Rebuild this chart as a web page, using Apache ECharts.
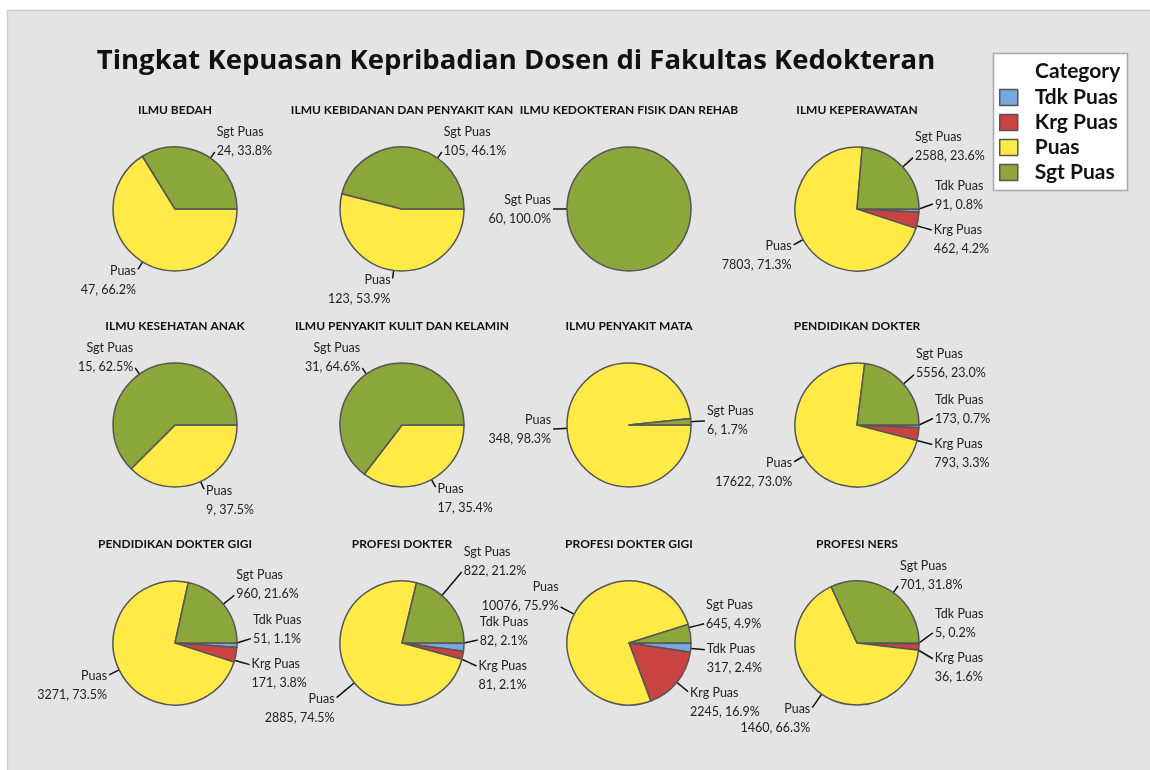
<!DOCTYPE html>
<html>
<head>
<meta charset="utf-8">
<script src="https://cdn.jsdelivr.net/npm/echarts@6/dist/echarts.min.js"></script>
<style>
  html, body { margin: 0; padding: 0; background: #fff; }
  #chart { width: 1150px; height: 770px; }
</style>
</head>
<body>
<div id="chart"></div>
<script>
// panel names, in row order
const panels = [
  "ILMU BEDAH", "ILMU KEBIDANAN DAN PENYAKIT KAN", "ILMU KEDOKTERAN FISIK DAN REHAB", "ILMU KEPERAWATAN",
  "ILMU KESEHATAN ANAK", "ILMU PENYAKIT KULIT DAN KELAMIN", "ILMU PENYAKIT MATA", "PENDIDIKAN DOKTER",
  "PENDIDIKAN DOKTER GIGI", "PROFESI DOKTER", "PROFESI DOKTER GIGI", "PROFESI NERS"
];
const categories = ["Tdk Puas", "Krg Puas", "Puas", "Sgt Puas"];
// counts per category, one per panel
const tdkPuas = [0, 0, 0, 91, 0, 0, 0, 173, 51, 82, 317, 5];
const krgPuas = [0, 0, 0, 462, 0, 0, 0, 793, 171, 81, 2245, 36];
const puas = [47, 123, 0, 7803, 9, 17, 348, 17622, 3271, 2885, 10076, 1460];
const sgtPuas = [24, 105, 60, 2588, 15, 31, 6, 5556, 960, 822, 645, 701];

const colors = {
  "Tdk Puas": "#7ba6dc",
  "Krg Puas": "#c94343",
  "Puas": "#ffea47",
  "Sgt Puas": "#8ba63a"
};
const FONT = "Lato, 'Open Sans', sans-serif";
const LABEL_FONT = "12.5px Lato, 'Open Sans', sans-serif";

const colX = [175, 402, 629, 857];
const rowY = [209, 425, 643];
const titleY = [110, 326, 544];
const R = 62;
const LH = 19; // label line height

const ctx = document.createElement("canvas").getContext("2d");
ctx.font = LABEL_FONT;

function labelLines(name, v, total) {
  return [name, v + ", " + (v / total * 100).toFixed(1) + "%"];
}

// minitab-like label placement: short leader, text block beside it,
// blocks pushed apart when they collide
let allLabels = [];
let labelPos = [];

function placeLabels(si, names, vals, cx, cy) {
  const total = vals.reduce((a, b) => a + b, 0);
  const TAU = 2 * Math.PI;
  let acc = 0;
  const out = [];
  vals.forEach((v, k) => {
    const a0 = acc / total * TAU;
    acc += v;
    const a1 = acc / total * TAU;
    const th = (a0 + a1) / 2;
    const c = Math.cos(th), s = Math.sin(th);
    const ax = cx + (R + 14) * c, ay = cy + (R + 14) * s;
    const right = c >= 0;
    let kind = "mid";
    let yc = ay;
    if (s < -0.3) { kind = "up"; yc = Math.max(ay - 11, cy - R - 6); }
    else if (s > 0.3) { kind = "down"; yc = ay + 5; }
    const lines = labelLines(names[k], v, total);
    const widths = lines.map(t => ctx.measureText(t).width);
    out.push({ si, cx, cy, a0, a1, ax, ay, right, kind, yc, widths });
  });
  // same pie, same side: keep blocks apart
  [true, false].forEach(side => {
    const list = out.filter(o => o.right === side).sort((a, b) => a.yc - b.yc);
    const gap = 2 * LH + 6;
    for (let it = 0; it < 30; it++) {
      let moved = false;
      for (let k = 1; k < list.length; k++) {
        const d = list[k].yc - list[k - 1].yc;
        if (d < gap - 0.01) {
          const sh = (gap - d) / 2;
          list[k - 1].yc -= sh;
          list[k].yc += sh;
          moved = true;
        }
      }
      if (!moved) break;
    }
  });
  // keep text off the pie horizontally
  out.forEach(o => {
    const top = o.yc - LH + 3, bot = o.yc + LH - 3;
    let dy = 0;
    if (bot < cy) dy = cy - bot;
    else if (top > cy) dy = top - cy;
    const w = dy >= R ? 0 : Math.sqrt(R * R - dy * dy);
    if (o.right) o.x = Math.max(o.ax + 2, cx + w + 8);
    else o.x = Math.min(o.ax - 2, cx - w - 8);
  });
  return out;
}

function lineRects(o) {
  return o.widths.map((w, k) => {
    const yc = o.yc + (k === 0 ? -LH / 2 : LH / 2);
    const x0 = o.right ? o.x : o.x - w;
    return { x0: x0, x1: x0 + w, y0: yc - 7, y1: yc + 7 };
  });
}

// labels of neighbouring pies must not run into each other
function resolveAcrossPanels() {
  for (let it = 0; it < 40; it++) {
    let moved = false;
    for (let a = 0; a < allLabels.length; a++) {
      for (let b = 0; b < allLabels.length; b++) {
        const A = allLabels[a], B = allLabels[b];
        if (A.si === B.si || A.yc > B.yc) continue;
        let push = 0;
        lineRects(A).forEach(ra => lineRects(B).forEach(rb => {
          if (ra.x0 < rb.x1 + 10 && rb.x0 < ra.x1 + 10 && ra.y0 < rb.y1 + 2 && rb.y0 < ra.y1 + 2) {
            push = Math.max(push, ra.y1 + 2 - rb.y0);
          }
        }));
        if (push > 0.01) {
          // upper-side labels go further up, the others go down
          if (A.kind === "up") A.yc -= push;
          else B.yc += push;
          moved = true;
        }
      }
    }
    if (!moved) break;
  }
}

function finishLines() {
  const TAU = 2 * Math.PI;
  allLabels.forEach(o => {
    const tx = o.right ? o.x - 2 : o.x + 2;
    let ty;
    if (o.kind === "up") ty = o.yc + 11;
    else if (o.kind === "down") ty = o.yc - 11;
    else ty = Math.min(Math.max(o.ay, o.yc - 9), o.yc + 9);
    // start on the slice's arc, nearest to the text
    let phi = Math.atan2(ty - o.cy, tx - o.cx);
    if (phi < 0) phi += TAU;
    if (!(phi >= o.a0 && phi <= o.a1) && (o.a1 - o.a0) < TAU - 1e-6) {
      const dist = (p, q) => { let d = Math.abs(p - q) % TAU; return Math.min(d, TAU - d); };
      phi = dist(phi, o.a0) < dist(phi, o.a1) ? o.a0 : o.a1;
    }
    const sx = o.cx + R * Math.cos(phi), sy = o.cy + R * Math.sin(phi);
    o.pts = [[sx, sy], [(sx + tx) / 2, (sy + ty) / 2], [tx, ty]];
  });
}

let series = [];
let graphics = [
  // gray panel
  {
    type: "rect", z: -10, silent: true,
    shape: { x: 7.5, y: 10.5, width: 1150, height: 770 },
    style: { fill: "#e4e4e4", stroke: "#cfcfcf", lineWidth: 1.5 }
  },
  {
    type: "text", silent: true,
    style: {
      text: "Tingkat Kepuasan Kepribadian Dosen di Fakultas Kedokteran",
      x: 516, y: 61, textAlign: "center", textVerticalAlign: "middle",
      font: "bold 27.5px 'Open Sans', sans-serif", fill: "#111"
    }
  },
  // legend box
  {
    type: "rect", silent: true, z: 1,
    shape: { x: 993.5, y: 53.5, width: 134, height: 137 },
    style: { fill: "#fff", stroke: "#a8a8a8", lineWidth: 1.5 }
  },
  {
    type: "text", silent: true, z: 2,
    style: {
      text: "Category", x: 1035, y: 71, textVerticalAlign: "middle",
      font: "bold 21px " + FONT, fill: "#111"
    }
  }
];

panels.forEach((name, i) => {
  const cx = colX[i % 4];
  const cy = rowY[Math.floor(i / 4)];
  const allVals = [tdkPuas[i], krgPuas[i], puas[i], sgtPuas[i]];
  const total = allVals.reduce((a, b) => a + b, 0);
  const data = [];
  const vals = [];
  const names = [];
  categories.forEach((c, k) => {
    if (allVals[k] > 0) {
      data.push({ name: c, value: allVals[k], itemStyle: { color: colors[c] } });
      vals.push(allVals[k]);
      names.push(c);
    }
  });
  const placed = placeLabels(i, names, vals, cx, cy);
  labelPos.push(placed);
  allLabels = allLabels.concat(placed);
  graphics.push({
    type: "text", silent: true,
    style: {
      text: name, x: cx, y: titleY[Math.floor(i / 4)],
      textAlign: "center", textVerticalAlign: "middle",
      font: "bold 12px " + FONT, fill: "#111"
    }
  });
  series.push({
    name: name,
    type: "pie",
    center: [cx, cy],
    radius: R,
    startAngle: 0,
    clockwise: true,
    animation: false,
    avoidLabelOverlap: false,
    itemStyle: { borderColor: "#555", borderWidth: 1.5 },
    label: {
      show: true,
      position: "outside",
      fontFamily: FONT,
      fontSize: 12.5,
      lineHeight: LH,
      color: "#222",
      formatter: p => labelLines(p.name, p.value, total).join("\n")
    },
    labelLine: {
      show: true,
      length: 8,
      length2: 4,
      lineStyle: { color: "#111", width: 1.5 }
    },
    labelLayout: params => {
      const o = labelPos[params.seriesIndex][params.dataIndex];
      return {
        x: o.x,
        y: o.yc,
        align: o.right ? "left" : "right",
        verticalAlign: "middle",
        hideOverlap: false,
        labelLinePoints: o.pts
      };
    },
    emphasis: { disabled: true },
    data: data
  });
});

resolveAcrossPanels();
finishLines();

let myChart = echarts.init(document.getElementById("chart"));
myChart.setOption({
  backgroundColor: "#fff",
  animation: false,
  legend: {
    data: categories,
    orient: "vertical",
    left: 994,
    top: 82,
    itemWidth: 18,
    itemHeight: 16,
    itemGap: 4,
    icon: "rect",
    z: 3,
    itemStyle: { borderColor: "#555", borderWidth: 1.5 },
    textStyle: { fontFamily: FONT, fontSize: 21, fontWeight: "bold", color: "#111", padding: [0, 0, 0, 12] },
    selectedMode: false
  },
  graphic: graphics,
  series: series
});
</script>
</body>
</html>
